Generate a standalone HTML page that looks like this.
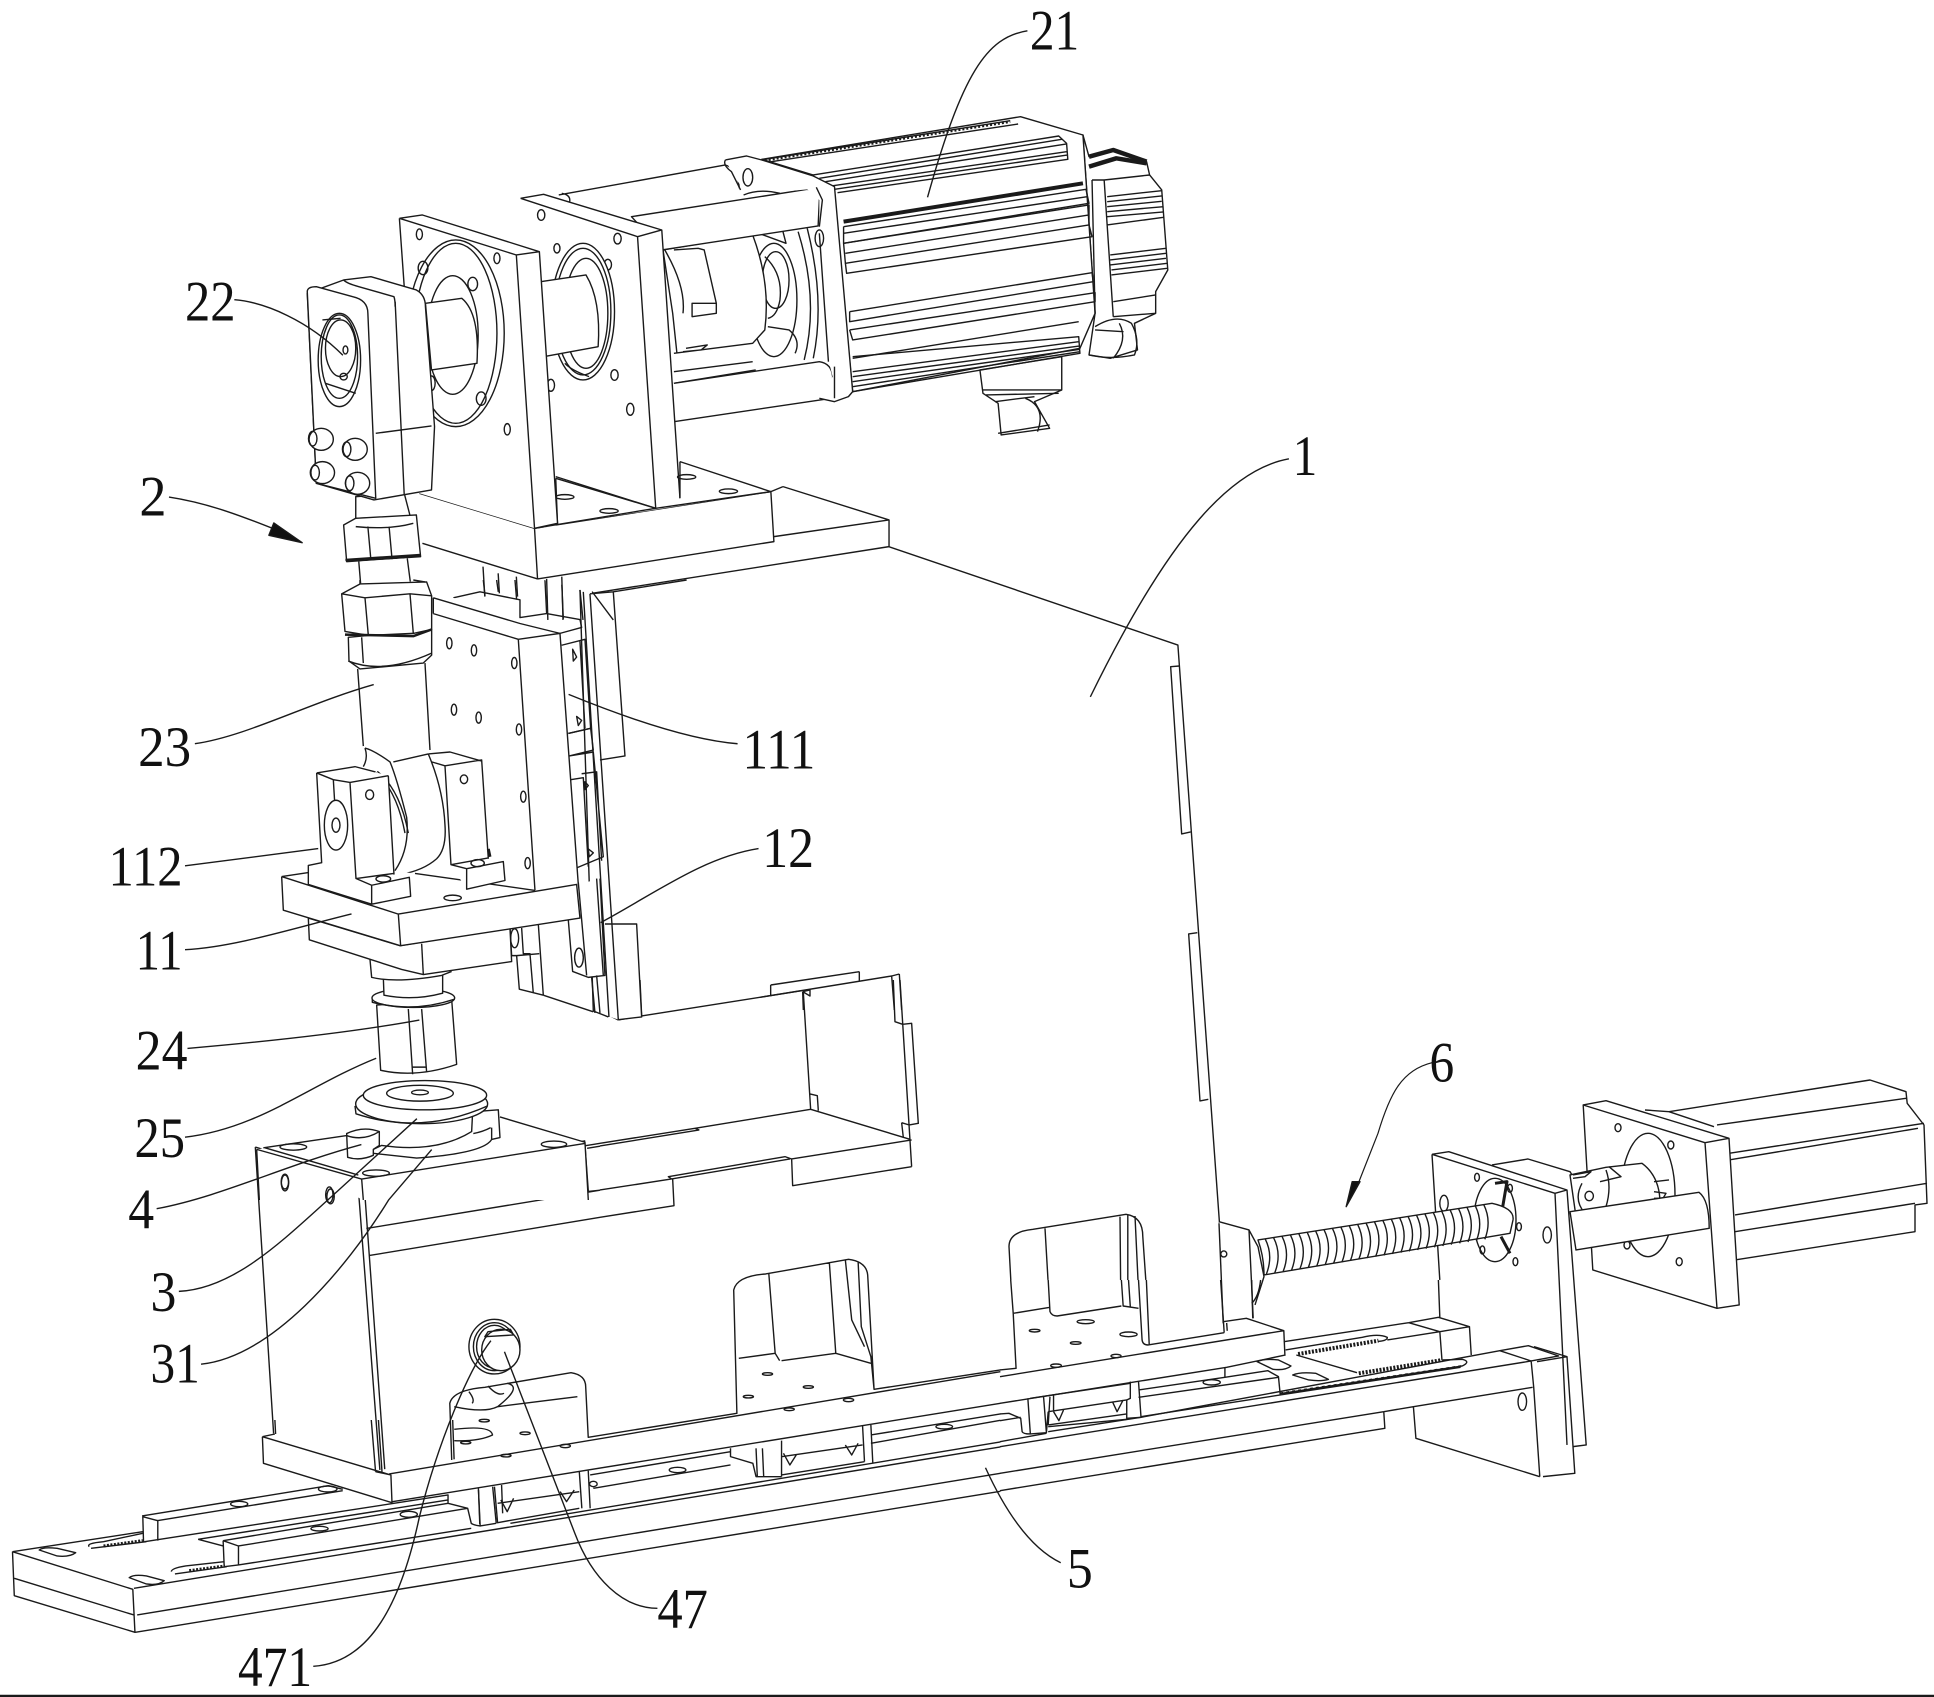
<!DOCTYPE html>
<html><head><meta charset="utf-8"><style>
html,body{margin:0;padding:0;background:#fff}
svg{display:block}
svg *{vector-effect:non-scaling-stroke;stroke:#1a1a1a;stroke-width:1.4;fill:none;stroke-linejoin:round}
.w{fill:#fff}
.f{fill:#fff;stroke:none}
.t{stroke-width:4.5}
.k{fill:#111}
.h{stroke-width:4;stroke-dasharray:2 1.5}
text{stroke:none;fill:#111;font-family:"Liberation Serif",serif;font-size:46px}
</style></head><body>
<svg xmlns="http://www.w3.org/2000/svg" width="1934" height="1697" viewBox="0 0 1934 1697">
<!-- main body, display coords -->
<g transform="scale(1.2334)">
<path d="M720,443 L955,523 L995,1079"/>
<path class="f" d="M207,930 L295,957 L474,925 L477,966 L486.5,965 L486.5,987 L299,1018 L308,1192 L222,1165Z"/>
<path d="M207,930 L295,957 L474,925 L477,966 L486.5,965 M474,929 L486.5,927 M476,931 L486.5,929.3 M207,930 L222,1165 M290,957 L308,1192 M295,957 L312,1192 M297,996 L486.5,965 M299,1018 L486.5,987"/>
<ellipse cx="231" cy="958" rx="3" ry="6"/><ellipse cx="268" cy="970" rx="3" ry="6"/>
</g>
<!-- plate right edge strips -->
<g transform="translate(1140,630) scale(.3333)">
<path d="M118,108 L92,110 L125,612 L152,606 M172,908 L146,912 L180,1413 L205,1408"/>
</g>
<!-- C panel top -->
<g transform="translate(760,950) scale(.3333)">
<path d="M0,142 L395,78 L418,72 M32,105 L298,65 M32,105 L32,135 M298,65 L298,92 M128,125 L130,180 M128,125 L150,120 L150,138 L128,125 M395,78 L403,180 M418,72 L425,180"/>
</g>
<!-- C panel -->
<g transform="translate(600,980) scale(.3333)">
<path d="M55,120 L125,108 L510,47 L605,32 M610,37 L632,388 L285,445 L0,490 M298,450 L0,498 M285,445 L298,450 M632,388 L930,478 M630,342 L652,347 L655,392"/>
<path d="M880,0 L885,125 L908,133 L935,130 L955,430 L928,435 M900,0 L935,560 M905,428 L910,472 M905,428 L928,435"/>
<path d="M935,480 L575,537 L555,530 L205,590 L215,597 L0,630 M570,537 L215,597 M575,537 L578,617 L935,560 M218,597 L222,677 L0,712"/>
<path d="M20,0 L25,105 L55,120 M47,0 L55,120 M120,0 L125,108"/>
</g>
<!-- right assembly -->
<g transform="translate(1000,1060) scale(.6,.3333)">
<path class="f" d="M1075,150 L1115,155 L1450,60 L1510,95 L1512,130 L1540,195 L1545,430 L1525,435 L1525,515 L1225,600 L1190,190Z"/>
<path d="M1075,150 L1115,155 L1450,60 L1510,95 L1512,130 L1540,195 L1545,430 L1525,435 L1525,515 L1225,600 M1195,195 L1510,115 M1215,280 L1540,190 M1215,300 L1530,205 M1225,465 L1545,370 M1225,515 L1525,430 M1115,155 L1190,200"/>
<path class="w" d="M972,135 L1010,122 L1215,235 L1232,735 L1195,745 L988,630Z"/>
<path d="M972,135 L1175,248 L1215,235 M1175,248 L1195,745"/>
<ellipse class="w" cx="1080" cy="405" rx="45" ry="185"/>
<ellipse cx="1030" cy="203" rx="5" ry="12"/><ellipse cx="1118" cy="255" rx="5" ry="12"/><ellipse cx="1045" cy="555" rx="5" ry="12"/><ellipse cx="1132" cy="605" rx="5" ry="12"/>
<path class="f" d="M820,315 L880,297 L950,335 L955,1160 L800,1000 Z"/>
<path d="M820,315 L880,297 L950,335 L955,350"/>
<path class="w" d="M950,345 L1010,322 L1070,310 Q1100,350 1100,430 L960,470Z"/>
<path d="M1015,320 L1035,350 L1000,365 M1010,330 Q1020,380 1010,440 M955,345 L985,335 L975,350 L955,355 M970,370 Q955,420 975,460 M1090,365 L1115,360 M1090,395 L1110,400 L1105,415 L1090,415"/>
<ellipse cx="982" cy="408" rx="7" ry="14"/>
<path class="w" d="M950,455 L1165,397 Q1182,420 1182,505 L960,570Z"/>
<path class="f" d="M720,283 L748,275 L945,390 L977,1155 L955,1160 L738,770Z"/>
<path d="M720,283 L748,275 L945,390 L977,1155 L955,1160 M720,283 L925,400 L945,1155 M925,400 L945,390 M720,283 L733,660"/>
<ellipse class="w" cx="825" cy="480" rx="35" ry="125"/>
<path d="M825,370 L845,365 L835,470 M835,530 L850,580" style="stroke-width:3"/>
<ellipse cx="795" cy="352" rx="4" ry="12"/><ellipse cx="850" cy="385" rx="4" ry="12"/><ellipse cx="740" cy="430" rx="7" ry="24"/><ellipse cx="865" cy="500" rx="4" ry="12"/><ellipse cx="804" cy="570" rx="4" ry="12"/><ellipse cx="859" cy="605" rx="4" ry="12"/><ellipse cx="912" cy="525" rx="7" ry="24"/>
<path class="w" d="M430,540 L820,430 Q858,445 855,480 L850,520 L440,645 Q440,590 430,540Z"/>
<path d="M442,537 q14,50 2,105 m12,-109 q14,50 2,105 m12,-109 q14,50 2,105 m12,-109 q14,50 2,105 m12,-109 q14,50 2,105 m12,-109 q14,50 2,105 m12,-109 q14,50 2,105 m12,-109 q14,50 2,105 m12,-109 q14,50 2,105 m12,-109 q14,50 2,105 m12,-109 q14,50 2,105 m12,-109 q14,50 2,105 m12,-109 q14,50 2,105 m12,-109 q14,50 2,105 m12,-109 q14,50 2,105 m12,-109 q14,50 2,105 m12,-109 q14,50 2,105 m12,-109 q14,50 2,105 m12,-109 q14,50 2,105 m12,-109 q14,50 2,105 m12,-109 q14,50 2,105 m12,-109 q14,50 2,105 m12,-109 q14,50 2,105 m12,-109 q14,50 2,105 m12,-109 q14,50 2,105 m12,-109 q14,50 2,105 m12,-109 q14,50 2,105"/>
<path class="w" d="M365,485 L415,510 L430,560 L440,650 L425,735 L420,775 L375,790Z" style="stroke:none"/>
<path d="M365,485 L415,510 L430,560 L440,650 L425,735 M365,490 L372,790 M415,510 L422,775"/>
<ellipse cx="373" cy="582" rx="5" ry="9"/>
<path d="M15,560 Q15,515 55,508 L210,463 Q238,470 238,530 L243,660 M15,560 L18,660 M75,505 L80,660 M200,470 L201,660 M213,465 L213,660 M225,468 L230,660"/>
<!-- end block top -->
<path d="M890,860 L945,890 L958,1240 L905,1250 M895,905 L945,890"/>
<path class="k" d="M600,365 L577,440 L587,365Z"/>
<path d="M720,8 C670,30 650,100 630,220 L595,380" style="stroke-width:1.2"/>
</g>
<!-- rail long lines, base, cutouts (coords from wide crop) -->
<g transform="translate(0,1200) scale(.638,.3333)">
<path d="M210,1165 L1568,741 M215,1245 L1568,820 M212,1297 L1568,874 M800,970 L1568,726"/>
<path d="M925,825 L1145,755 M930,865 L1145,795 M1145,745 L1145,770 L1180,790 L1185,830 L1225,830 M1195,745 L1197,830 M1185,745 L1187,830 M1225,722 L1225,830 M1352,678 L1355,785 M1365,675 L1368,788 M1225,770 L1352,735 M1225,825 L1355,785 M1228,760 L1238,795 L1248,765 M1325,735 L1335,765 L1345,730 M1365,705 L1568,642 M1365,730 L1568,661"/>
<path d="M780,910 L908,875 M780,968 L908,925 M878,875 L888,905 L900,870 M908,815 L912,925 M922,812 L925,925 M785,900 L795,935 L805,895 M750,870 L752,972 M775,860 L780,970"/>
<ellipse cx="1062" cy="810" rx="13" ry="8"/><ellipse cx="1480" cy="680" rx="13" ry="7"/><ellipse cx="930" cy="852" rx="6" ry="8"/>
<path class="f" d="M410,710 L430,700 L595,810 L1568,510 L1568,610 L615,905 L412,790Z"/>
<path d="M610,822 L1568,515 M615,905 L1568,610"/>
<!-- cutouts on front of box -->
<path d="M708,780 L705,610 Q710,570 760,562 L895,518 Q918,525 918,560 L922,712 L1155,640 L1150,270 Q1155,228 1200,222 L1330,178 Q1358,185 1360,225 L1370,568 L1568,510 M1158,475 L1215,460 M1225,482 L1310,460 M1205,220 L1215,460 L1222,482 M1300,190 L1310,460 L1365,490 M1325,180 L1335,360 L1355,440 M1345,185 L1350,380 L1365,470 L1370,568"/>
<path d="M712,620 Q760,640 780,620 L905,590 M735,575 Q745,600 740,610 M765,558 Q780,590 790,580 M795,550 Q820,560 780,620"/>
<path d="M712,688 Q770,675 772,705 Q750,725 712,722"/>
<ellipse cx="759" cy="662" rx="8" ry="4"/><ellipse cx="823" cy="700" rx="8" ry="4"/><ellipse cx="730" cy="728" rx="8" ry="4"/><ellipse cx="793" cy="767" rx="8" ry="4"/><ellipse cx="886" cy="738" rx="8" ry="5"/>
<ellipse cx="1203" cy="522" rx="8" ry="4"/><ellipse cx="1267" cy="561" rx="8" ry="4"/><ellipse cx="1173" cy="590" rx="8" ry="4"/><ellipse cx="1237" cy="628" rx="8" ry="4"/><ellipse cx="1330" cy="600" rx="8" ry="5"/>
<ellipse class="w" cx="775" cy="440" rx="40" ry="82"/><ellipse cx="775" cy="440" rx="33" ry="72"/><ellipse cx="775" cy="440" rx="28" ry="64"/>
<ellipse class="w" cx="785" cy="450" rx="30" ry="62"/>
<path d="M760,410 L805,405 L800,388 L765,395Z"/>
</g>
<!-- left rail close crop -->
<g transform="translate(0,1420) scale(.357,.3333)">
<path d="M35,395 L372,508 L378,637 L40,527 L35,395 M40,475 L375,585 M35,395 L400,335"/>
<path d="M250,380 Q240,370 290,365 L400,340 M255,385 L410,365" />
<path d="M290,378 L400,362" class="h" style="stroke-width:3"/>
<path d="M400,290 L402,365 M400,290 L442,302 L442,362 M398,288 L920,197 L960,208 M440,302 L960,212"/>
<path d="M405,365 L1255,225 L1255,250 M555,358 L1255,240 M555,358 L625,378 M625,362 L1255,250 L1310,265 L1320,310 Q1325,315 1345,318 M625,362 L668,378 L668,435 M625,362 L628,440 L668,435 M668,378 L1310,265"/>
<path d="M480,455 Q480,445 520,438 L628,425 M490,462 L635,440"/>
<path d="M530,452 L630,438" class="h" style="stroke-width:3"/>
<path d="M668,435 L1320,325"/>
<path d="M110,390 Q120,380 160,385 L212,398 Q195,412 160,408Z M362,473 Q375,462 410,468 L460,482 Q445,497 410,492Z"/>
<ellipse cx="670" cy="252" rx="24" ry="8"/><ellipse cx="918" cy="207" rx="26" ry="9"/><ellipse cx="895" cy="326" rx="24" ry="7"/><ellipse cx="1145" cy="283" rx="24" ry="9"/>
<path d="M735,50 L1095,165 L1098,248 L738,130 L735,50 M735,50 L770,42 M770,0 L772,42 M1040,0 L1052,155 M1060,0 L1070,155 M1052,155 L1095,165 M1268,0 L1272,118 M1340,205 L1345,318 L1390,310 M1380,200 L1390,310 M1405,195 L1408,280"/>
</g>
<!-- slider close crop -->
<g transform="translate(1000,1280) scale(.357,.3333)">
<path d="M37,100 L140,82 M30,0 L37,100 L45,265 L0,270 M135,0 L140,95 Q145,108 160,108 L340,78 M340,0 L345,78 L388,85 M360,0 L365,80 M388,0 L398,180 Q400,195 415,195 L628,158 M410,0 L418,195 M618,0 L628,158 M705,0 L708,115 M705,70 Q725,50 730,0"/>
<path d="M0,290 L795,152 L690,115 L625,125 M795,152 L798,225 M0,370 L635,262 L800,225"/>
<ellipse cx="240" cy="125" rx="24" ry="6"/><ellipse cx="97" cy="152" rx="15" ry="4"/><ellipse cx="212" cy="189" rx="15" ry="4"/><ellipse cx="360" cy="163" rx="24" ry="7"/><ellipse cx="325" cy="228" rx="14" ry="5"/><ellipse cx="157" cy="257" rx="15" ry="5"/>
<path d="M795,185 L1145,128 L1228,112 L1315,140 L1232,155 L1145,128 M1315,140 L1320,225 M1232,155 L1238,240 M1228,0 L1232,112 M800,210 L1015,172 Q1060,160 1085,172 Q1085,182 1060,184 M1085,180 L1232,155"/>
<path d="M835,222 L1060,182" class="h"/>
<path d="M830,225 L1000,278"/>
<path d="M1005,280 L1240,240" class="h"/>
<path d="M1240,240 L1295,238 Q1320,245 1295,258 L790,340 M785,345 L1290,262"/>
<path d="M785,340 L1295,258" style="stroke-dasharray:3 3;stroke-width:2"/>
<path d="M0,500 L1488,243 L1400,212 L1480,197 L1565,228 L1488,243 M0,580 L1075,395 L1078,445 L0,632 M1075,395 L1158,380 L1492,322 M1488,245 L1495,322 L1512,590 M1158,380 L1165,475 L1512,590"/>
<ellipse cx="1463" cy="365" rx="12" ry="26"/>
<path d="M0,485 L130,460 M135,455 L395,412 L1400,212"/>
<path d="M388,330 L630,292 L750,272 L780,290 L785,345 L395,410 M388,352 L780,292 M630,262 L630,292"/>
<ellipse cx="593" cy="307" rx="24" ry="8"/>
<path d="M365,305 L365,355 L355,360 L355,415 L395,412 L388,305"/>
<path d="M140,350 L135,435 M135,395 L355,360 M135,435 L355,402 M135,440 L355,418 M150,345 L150,395 M150,395 L165,422 L178,390 M315,365 L328,395 L345,360 M78,355 L85,462 L130,458 L122,350 M135,395 L130,458 M0,402 L25,400 L58,415 L62,455 Q65,462 85,462 M0,422 L58,412"/>
<path d="M85,355 L365,310"/>
<path d="M720,245 Q740,235 780,240 L815,258 Q800,272 765,268Z M820,285 Q840,275 885,280 L920,298 Q900,305 865,300Z"/>
</g>
<!-- middle left assembly -->
<g transform="translate(250,580) scale(.3333,.3954)">
<path class="f" d="M990,25 L1090,30 L1125,445 L1050,455 L1065,870 L1160,870 L1175,1105 L1105,1112 L1030,1090 L880,1050 L800,1040 L780,880 L985,770 L930,135Z"/>
<path d="M990,25 L1030,1090 M1020,35 L1105,1112 M1000,30 L1077,1105 M1090,30 L1125,445 L1050,455 M1020,35 L1090,30 L1310,0 M1065,870 L1160,870 L1175,1105 L1105,1112 M1030,1090 L1075,1105 M880,1050 L1030,1092"/>
<path d="M935,165 L1005,150 L1022,375 L955,388 M990,155 L1005,375 M968,175 L980,195 L970,205Z M980,345 L995,355 L985,368Z"/>
<path d="M955,388 L1022,375 L1030,430 L958,445 M958,445 L1030,435 L1060,700 L980,728 M962,505 L1000,500 L1015,725 M995,490 L1040,485 L1055,710 M1005,510 L1015,520 L1005,530Z M1015,680 L1030,690 L1018,700Z"/>
<path class="f" d="M985,770 L1050,755 L1065,1000 L1015,1005 L968,990 L955,860Z"/>
<path d="M985,765 L1010,1000 M1050,755 L1065,1000 L1015,1005 L968,990 L955,860 M1040,755 L1060,1000"/>
<ellipse cx="987" cy="955" rx="13" ry="24"/>
<path d="M1025,1005 L1035,1095 M1040,1000 L1050,1095"/>
<path d="M780,880 L785,950 L800,950 L808,1035 L880,1050 M815,880 L820,945 L840,945 L850,1045 M865,870 L880,1050 M800,950 L868,945"/>
<ellipse cx="794" cy="906" rx="12" ry="24"/>
<path d="M610,45 L690,30 L810,50 L810,95 L890,85 L990,100 L995,120 L930,135 M700,0 L705,40 M740,0 L745,30 M795,0 L800,50 M885,0 L890,85 M935,0 L940,98"/>
<!-- plate -->
<path class="f" d="M550,45 L610,45 L795,100 L930,135 L985,770 L855,785 L620,740 L590,360 L540,200Z"/>
<path d="M550,85 L805,150 L855,785 M805,150 L930,135 L985,770 M550,45 L810,110 L930,135 M550,45 L550,85"/>
<g><ellipse cx="598" cy="160" rx="8" ry="14"/><ellipse cx="672" cy="178" rx="8" ry="14"/><ellipse cx="793" cy="210" rx="8" ry="14"/><ellipse cx="612" cy="328" rx="8" ry="14"/><ellipse cx="686" cy="348" rx="8" ry="14"/><ellipse cx="807" cy="378" rx="8" ry="14"/><ellipse cx="820" cy="548" rx="8" ry="14"/><ellipse cx="833" cy="716" rx="8" ry="14"/></g>
<!-- cup, flange, stem, collar, lower plate -->
<path class="w" d="M380,1075 L392,1240 Q500,1260 620,1225 L605,1060Z"/>
<path d="M475,1085 L488,1250 M515,1085 L530,1245 M488,1232 L530,1232"/>
<ellipse class="w" cx="490" cy="1057" rx="124" ry="24"/>
<path d="M367,1060 L367,1068 Q490,1095 614,1060"/>
<path class="w" d="M400,1005 L402,1050 Q490,1065 578,1045 L578,995Z"/>
<path class="f" d="M360,955 L365,1005 Q440,1020 575,1000 L605,990 L520,940Z"/>
<path d="M360,960 L365,1005 Q440,1020 575,1000 L605,990"/>
<path class="w" d="M175,855 L178,910 L455,985 L520,998 L785,965 L780,880 L450,925Z"/>
<path d="M515,920 L520,998"/>
<!-- body -->
<path class="f" d="M323,225 L525,210 L540,430 L585,590 L580,680 Q550,725 450,745 L420,600 L345,470 L340,420Z"/>
<path d="M323,225 L340,420 M525,210 L540,430 M345,425 Q370,430 420,460 Q440,500 470,600 Q480,680 435,735 M345,425 Q355,450 340,472 M430,460 L535,440 M535,440 Q580,530 585,620 Q590,680 560,705 Q520,735 450,745"/>
<path d="M375,485 Q440,530 465,640 M382,484 Q450,530 475,640"/>
<path class="w" d="M295,145 L545,125 L545,190 L520,210 L330,225 L297,205Z"/>
<path d="M335,145 L340,210 M295,205 Q400,240 545,185"/>
<path class="w" d="M275,35 L330,10 L530,5 L545,40 L545,125 L490,135 L355,140 L285,130Z"/>
<path d="M275,35 L345,45 L480,35 L545,40 M345,45 L355,140 M480,35 L490,135 M330,0 L330,10 M490,0 L525,5"/>
<path d="M285,138 L490,142 L545,125" style="stroke-width:2.5"/>
<!-- table -->
<path class="f" d="M175,740 L215,718 L495,742 L855,785 L980,770 L990,855 L452,925 L100,835 L95,750Z"/>
<path d="M95,750 L445,845 L980,770 L990,855 L452,925 L100,835 L95,750 M445,845 L452,925 M95,750 L175,740 M495,742 L855,785"/>
<ellipse cx="608" cy="804" rx="26" ry="7"/>
<!-- back bearing block -->
<path class="f" d="M540,440 L600,435 L695,455 L715,705 L760,712 L765,760 L650,782 L603,720 L585,470Z"/>
<path d="M535,440 L600,435 L695,458 M545,460 L585,470 L695,455 L715,705 M585,470 L603,720 L650,730 L650,782 L765,760 L760,712 L650,730 M603,720 L715,703"/>
<ellipse cx="642" cy="504" rx="11" ry="11"/><ellipse cx="683" cy="716" rx="20" ry="9"/>
<path d="M715,680 L720,700" style="stroke-width:3"/>
<!-- front bearing block -->
<path class="f" d="M200,488 L315,472 L415,495 L432,745 L480,752 L482,800 L365,820 L175,770 L175,722 L215,715Z"/>
<path d="M200,488 L315,472 L375,485 M200,488 L215,715 L175,722 L175,770 L365,820 M200,488 L250,505 L300,512 L415,495 M250,505 L255,575 M300,512 L318,755 L365,772 L365,820 L482,800 L478,752 L365,772 M415,495 L432,745 M318,755 L432,742"/>
<ellipse class="w" cx="258" cy="620" rx="35" ry="63"/><ellipse cx="258" cy="620" rx="12" ry="18"/>
<ellipse cx="359" cy="543" rx="12" ry="12"/><ellipse cx="400" cy="756" rx="22" ry="8"/>
<!-- table top of box -->
<path class="f" d="M750,1358 L1005,1422 L1015,1568 L340,1568 L20,1440 L290,1405 Z"/>
<path d="M750,1358 L1005,1422 L1015,1568 M335,1515 L1005,1425 M20,1440 L335,1515 L340,1568 M20,1440 L28,1568 M40,1436 L290,1405 M45,1436 L325,1505"/>
<ellipse cx="130" cy="1434" rx="40" ry="8"/><ellipse cx="378" cy="1500" rx="40" ry="8"/><ellipse cx="912" cy="1427" rx="38" ry="8"/>
<ellipse cx="105" cy="1525" rx="11" ry="20"/><ellipse cx="238" cy="1555" rx="11" ry="20"/>
<path class="w" d="M370,1440 L395,1430 Q560,1450 665,1395 L668,1345 L745,1340 L750,1410 L725,1415 Q700,1450 500,1462 L370,1450Z"/>
<path d="M725,1385 L725,1415 M670,1400 Q700,1395 722,1385"/>
<path class="w" d="M290,1400 Q340,1380 388,1395 L388,1430 L370,1440 L370,1455 Q330,1470 293,1460Z"/>
<path d="M290,1405 Q340,1420 388,1395"/>
<ellipse class="w" cx="515" cy="1325" rx="198" ry="50"/>
<path d="M315,1330 L318,1350 Q515,1405 713,1330"/>
<ellipse class="w" cx="525" cy="1303" rx="185" ry="37"/>
<ellipse cx="510" cy="1298" rx="100" ry="20"/><ellipse cx="510" cy="1296" rx="25" ry="6"/>
</g>
<!-- top assembly -->
<g transform="translate(280,100) scale(.606,.3333)">
<!-- connector under motor -->
<path class="w" d="M1155,810 L1290,770 L1290,870 L1245,905 L1270,985 L1190,1005 L1185,910 L1160,880Z"/>
<path d="M1160,870 L1290,870 M1165,885 L1285,880 M1180,905 L1245,890 M1185,1000 L1270,975 M1230,895 Q1265,920 1250,995"/>
<!-- end cap -->
<path class="w" d="M1325,105 L1335,170 L1375,150 L1430,185 L1435,225 L1455,270 L1465,510 L1445,575 L1445,640 L1410,670 L1415,750 L1370,775 L1335,765 L1345,640Z"/>
<path d="M1335,170 L1375,150 L1430,185" class="t"/>
<path d="M1335,200 L1380,175 L1430,190" class="t"/>
<path d="M1340,240 L1360,240 L1435,225 M1360,240 L1375,650 M1365,290 L1455,272 M1365,305 L1455,288 M1365,320 L1455,304 M1365,335 L1458,320 M1365,350 L1458,336 M1365,375 L1458,352 M1370,465 L1462,445 M1370,480 L1462,460 M1370,495 L1462,475 M1372,510 L1464,490 M1372,525 L1464,505 M1375,605 L1445,585 M1375,650 L1445,640"/>
<path d="M1345,680 Q1380,640 1405,670 Q1420,720 1410,765 Q1370,780 1335,765 M1385,670 Q1400,720 1375,775 M1345,690 L1392,695"/>
<!-- motor -->
<path class="w" d="M795,178 L1222,50 L1325,105 L1345,640 L1320,745 L945,875 L925,500 L880,225Z"/>
<path d="M800,178 L1205,62 M800,188 L1218,72 M1340,240 L1345,640"/>
<path d="M800,182 L1205,66" style="stroke-dasharray:2 2;stroke-width:2"/>
<path d="M880,225 L1285,108 L1298,130 L1300,178 L920,278 M890,235 L1290,118 M900,245 L1298,132 M910,258 L1298,155 M915,268 L1300,165"/>
<path d="M930,365 L1325,250" style="stroke-width:4"/>
<path d="M930,380 L1330,268 L1335,310 L930,430 L930,380 M930,400 L1332,290"/>
<path d="M930,430 L1335,315 L1335,375 L933,490 L930,430 M933,460 L1335,345"/>
<path d="M933,490 L935,520 L1340,410 L1335,375"/>
<path d="M940,635 L1340,518 L1342,545 L940,665 L940,635 M940,690 L1345,578 L1345,605 L945,720 L940,690"/>
<path d="M945,770 L1318,710 L1320,760 L945,875 M945,815 L1318,725 M945,830 L1320,738 M945,845 L1320,748 M945,860 L1320,755"/>
<path d="M945,775 L1318,665"/>
<!-- back rod -->
<path class="f" d="M465,280 L735,195 L760,290 L585,345 L470,310Z"/>
<path d="M460,285 L735,195 M465,280 Q480,285 478,305 M735,195 Q755,205 758,265"/>
<!-- disc behind coupling -->
<path class="f" d="M780,405 L860,390 Q895,500 885,680 L870,780 L785,800 Z"/>
<ellipse class="w" cx="815" cy="600" rx="38" ry="170"/><ellipse cx="818" cy="540" rx="22" ry="85"/>
<path d="M855,395 Q890,600 865,780 M870,385 Q900,600 880,775 M800,470 Q830,520 825,600 Q820,650 805,655 M805,680 L840,690 Q860,720 850,760 M790,400 L835,430 L830,395"/>
<!-- coupling -->
<path class="f" d="M632,450 L780,405 Q810,550 800,690 L780,730 L650,760Z"/>
<path d="M632,450 L780,405 Q810,550 800,690 L780,730 L650,760 M632,450 L648,640 L655,760 M650,450 L690,445 L700,450 L720,610 L680,610 L680,650 L720,640 L720,610 M635,450 Q670,560 665,640 M670,745 L705,735 L695,750 L665,755"/>
<!-- rods -->
<path class="w" d="M580,350 L870,268 Q890,275 890,300 L888,378 L630,450Z"/>
<path d="M650,815 L780,785 M650,850 L785,810"/>
<path class="f" d="M650,850 L890,785 Q910,790 912,830 L910,895 L650,965Z"/>
<path d="M650,850 L890,785 Q910,790 912,830 L910,895 L650,965"/>
<!-- flange -->
<path class="f" d="M735,180 L770,168 L795,180 L880,228 L915,260 L945,875 L938,890 L915,905 L890,895 L912,830 L905,780 L890,400 L890,300 L870,268 L770,285 L745,215Z"/>
<path d="M735,180 L770,168 L795,180 L880,228 L915,260 L945,875 L938,890 L915,905 L890,895 M735,180 Q730,195 745,215 L760,270 M885,262 L895,300 L890,380 M890,400 L905,785 M915,800 L915,895 M765,285 Q790,265 825,280"/>
<ellipse cx="772" cy="232" rx="8" ry="26"/>
<ellipse cx="890" cy="415" rx="7" ry="25"/>
<!-- plate 2 -->
<path class="f" d="M397,295 L435,283 L630,390 L660,1195 L620,1225 L590,1235 L455,1130 L415,700Z"/>
<path d="M397,295 L435,283 L630,390 L660,1195 M397,295 L590,410 L620,1225 M590,410 L630,390 M455,1130 L620,1225"/>
<ellipse cx="431" cy="345" rx="6" ry="16"/><ellipse cx="557" cy="416" rx="6" ry="16"/><ellipse cx="541" cy="494" rx="6" ry="16"/><ellipse cx="457" cy="445" rx="5" ry="14"/><ellipse cx="552" cy="825" rx="6" ry="16"/><ellipse cx="578" cy="928" rx="6" ry="18"/><ellipse cx="447" cy="856" rx="6" ry="18"/>
<ellipse class="w" cx="500" cy="635" rx="52" ry="205"/><ellipse cx="500" cy="635" rx="46" ry="190"/><ellipse cx="505" cy="640" rx="36" ry="165"/>
<path class="w" d="M430,545 L505,525 Q530,600 525,740 L435,770Z"/>
<path d="M470,790 Q480,810 510,830"/>
<!-- base block -->
<path class="f" d="M230,1180 L420,1285 L810,1175 L830,1160 L1005,1260 L1005,1340 L515,1480 L430,1437 L235,1330Z"/>
<path d="M420,1285 L425,1437 M810,1175 L815,1325 L425,1437 M815,1310 L1005,1260 L1005,1340 L515,1480 M830,1160 L1005,1260 M810,1175 L830,1160 M235,1330 L425,1437 M420,1285 L810,1175 M230,1180 L420,1285"/>
<path class="f" d="M455,1135 L620,1225 L660,1195 L660,1090 L810,1175 L420,1285 L455,1280Z"/>
<path d="M455,1135 L620,1225 L420,1285 M455,1135 L458,1275 M660,1085 L810,1175 M620,1225 L810,1175 M660,1085 L660,1195"/>
<ellipse cx="671" cy="1131" rx="15" ry="7"/><ellipse cx="740" cy="1174" rx="15" ry="7"/><ellipse cx="470" cy="1191" rx="15" ry="7"/><ellipse cx="543" cy="1233" rx="15" ry="7"/>
<path d="M440,1437 L442,1560 M465,1430 L467,1560 M495,1470 L500,1560 M515,1475 L550,1560 M335,1400 L338,1490 M360,1420 L362,1480 M390,1430 L392,1490"/>
<!-- plate 1 -->
<path class="f" d="M197,355 L235,345 L428,455 L458,1270 L420,1285 L230,1180 L205,780Z"/>
<path d="M197,355 L235,345 L428,455 L458,1270 L420,1285 M197,355 L390,465 L420,1285 M390,465 L428,455 M197,355 L205,560"/>
<ellipse cx="230" cy="403" rx="5" ry="16"/><ellipse cx="358" cy="475" rx="5" ry="16"/><ellipse cx="375" cy="988" rx="5" ry="17"/>
<ellipse class="w" cx="290" cy="700" rx="80" ry="280"/><ellipse cx="290" cy="700" rx="68" ry="270"/>
<ellipse cx="236" cy="504" rx="8" ry="20"/><ellipse cx="318" cy="552" rx="8" ry="20"/><ellipse cx="250" cy="850" rx="6" ry="22"/><ellipse cx="332" cy="896" rx="8" ry="20"/>
<ellipse cx="285" cy="705" rx="42" ry="178"/>
<path class="w" d="M240,610 L300,595 Q330,640 325,790 L250,810Z"/>
<!-- stem -->
<path class="w" d="M125,1190 L125,1255 L215,1250 L205,1180Z"/>
<path class="w" d="M105,1275 L125,1255 L225,1245 L232,1370 L110,1385Z"/>
<path d="M125,1280 Q180,1290 220,1270 M145,1280 L150,1380 M180,1280 L185,1380"/>
<path d="M108,1380 L232,1365" style="stroke-width:2.5"/>
<path class="f" d="M130,1385 L133,1445 L215,1445 L210,1375Z"/>
<path d="M130,1385 L133,1450 M210,1375 L215,1445"/>
<!-- front block -->
<path class="w" d="M105,540 L150,530 L225,570 Q240,585 240,620 L255,980 L250,1170 L155,1200 L60,1150 L45,580Z"/>
<path d="M190,605 L205,1185 M158,1000 L250,978"/>
<path class="w" d="M45,575 Q45,560 60,560 L120,590 Q145,600 145,640 L158,1195 L60,1150Z"/>
<path d="M105,540 Q110,550 130,560 L188,590 Q190,600 190,620"/>
<ellipse cx="98" cy="780" rx="35" ry="140"/><ellipse cx="98" cy="770" rx="30" ry="125"/><ellipse cx="100" cy="745" rx="25" ry="85"/><ellipse cx="108" cy="750" rx="4" ry="12"/>
<ellipse cx="105" cy="830" rx="6" ry="10"/>
<path d="M70,660 L100,655 M75,850 L125,880"/>
<g><ellipse class="w" cx="68" cy="1018" rx="20" ry="33"/><ellipse cx="54" cy="1016" rx="7" ry="22"/><ellipse class="w" cx="124" cy="1048" rx="20" ry="33"/><ellipse cx="110" cy="1048" rx="7" ry="22"/><ellipse class="w" cx="70" cy="1118" rx="20" ry="33"/><ellipse cx="58" cy="1118" rx="7" ry="22"/><ellipse class="w" cx="128" cy="1150" rx="20" ry="33"/><ellipse cx="115" cy="1150" rx="7" ry="22"/></g>
</g>
<!-- leaders and labels -->
<g transform="scale(1.2334)">
<path d="M833,25 C800,30 780,60 752,160"/>
<path d="M190,243 C215,245 250,260 278,288"/>
<path d="M137,403 C170,408 200,420 225,430"/>
<path class="k" d="M245,440 L218,434 L222,424Z"/>
<path d="M158,603 C200,597 250,570 303,555"/>
<path d="M598,603 C560,600 510,583 461,563"/>
<path d="M150,702 L258,688"/>
<path d="M615,688 C570,695 530,725 487,748"/>
<path d="M1045,372 C1000,380 950,430 884,565"/>
<path d="M150,770 C190,768 240,752 285,741"/>
<path d="M152,850 C210,845 280,838 340,827"/>
<path d="M150,922 C210,915 250,880 305,858"/>
<path d="M127,980 C180,970 230,945 293,928"/>
<path d="M145,1047 C190,1045 230,1005 269,970 L338,907"/>
<path d="M163,1106 C220,1100 280,1030 315,973 L350,932"/>
<path d="M409,1096 L466,1243 C480,1280 505,1304 533,1304"/>
<path d="M254,1351 C300,1348 325,1300 340,1230 C355,1170 380,1110 398,1087"/>
<path d="M799,1190 C815,1225 835,1255 860,1267"/>
<text x="835" y="40" textLength="40" lengthAdjust="spacingAndGlyphs">21</text>
<text x="150" y="260" textLength="41" lengthAdjust="spacingAndGlyphs">22</text>
<text x="113" y="418" textLength="22" lengthAdjust="spacingAndGlyphs">2</text>
<text x="112" y="621" textLength="43" lengthAdjust="spacingAndGlyphs">23</text>
<text x="602" y="623" textLength="59" lengthAdjust="spacingAndGlyphs">111</text>
<text x="88" y="718" textLength="60" lengthAdjust="spacingAndGlyphs">112</text>
<text x="618" y="703" textLength="42" lengthAdjust="spacingAndGlyphs">12</text>
<text x="1048" y="385" textLength="20" lengthAdjust="spacingAndGlyphs">1</text>
<text x="110" y="786" textLength="38" lengthAdjust="spacingAndGlyphs">11</text>
<text x="110" y="867" textLength="42" lengthAdjust="spacingAndGlyphs">24</text>
<text x="109" y="938" textLength="41" lengthAdjust="spacingAndGlyphs">25</text>
<text x="104" y="996" textLength="21" lengthAdjust="spacingAndGlyphs">4</text>
<text x="122" y="1063" textLength="21" lengthAdjust="spacingAndGlyphs">3</text>
<text x="122" y="1121" textLength="40" lengthAdjust="spacingAndGlyphs">31</text>
<text x="1159" y="877" textLength="20" lengthAdjust="spacingAndGlyphs">6</text>
<text x="865" y="1287" textLength="21" lengthAdjust="spacingAndGlyphs">5</text>
<text x="533" y="1320" textLength="41" lengthAdjust="spacingAndGlyphs">47</text>
<text x="193" y="1367" textLength="60" lengthAdjust="spacingAndGlyphs">471</text>
</g>
<line x1="0" y1="1696" x2="1934" y2="1696" style="stroke-width:2.5"/>
</svg>
</body></html>
